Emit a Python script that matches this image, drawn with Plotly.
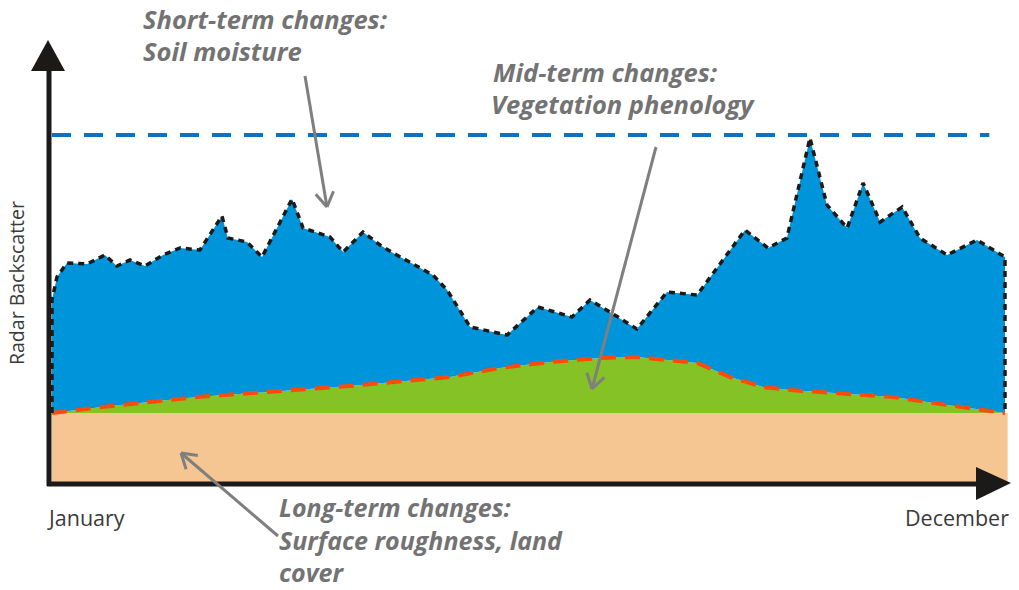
import math
import plotly.graph_objects as go

W, H = 1019, 590

# ---------------- data (arbitrary backscatter units, day of year) ----------------
moist_day = [1, 2.9, 6.7, 14.4, 21.2, 25.8, 30.8, 36.5, 43.4, 49.9, 57.5, 65.9, 68.2,
             75.5, 81.2, 92.7, 96.9, 107.2, 112.2, 119.8, 126.3, 131.3, 146.5, 151.9,
             160.7, 174.8, 186.6, 199.6, 206.5, 214.1, 224.4, 235.9, 247.4, 265.7,
             274.5, 281.7, 290.5, 297.0, 304.7, 310.8, 317.3, 325.7, 332.5, 342.9,
             354.3, 365]
moist_val = [18.4, 20.7, 22.1, 22.0, 22.9, 21.8, 22.4, 21.8, 22.9, 23.6, 23.4, 26.8, 24.6,
             24.2, 22.7, 28.5, 25.6, 24.7, 23.2, 25.2, 23.9, 23.1, 20.9, 19.4,
             15.7, 14.9, 17.7, 16.7, 18.4, 17.2, 15.5, 19.2, 18.9, 25.4,
             23.6, 24.6, 34.6, 27.9, 25.6, 30.1, 26.2, 27.7, 24.6, 22.9,
             24.4, 22.7]

veg_day = [1, 20.1, 56.4, 88.1, 114.8, 153.0, 172.1, 191.2, 210.3, 224.4, 242.0, 247.4,
           260.0, 272.6, 282.9, 304.7, 322.3, 342.9, 365]
veg_val = [7.1, 7.7, 8.7, 9.3, 9.8, 10.7, 11.6, 12.2, 12.6, 12.7, 12.2, 12.1,
           10.7, 9.7, 9.4, 9.0, 8.7, 7.9, 7.1]

rough_day = [1, 366]
rough_val = [7.1, 7.1]

max_day = [1, 359]
max_val = [34.9, 34.9]

x_labels = ["January", "December"]
y_label = "Radar Backscatter"

# ---------------- colours ----------------
C_BLUE = "#0094da"
C_GREEN = "#84c226"
C_PEACH = "#f5c592"
C_RED = "#ff4a0a"
C_MAX = "#0a72c4"
C_AXIS = "#1c1a19"
C_ARROW = "#7f7f7f"
C_TEXT = "#737373"

# ---------------- axis mapping (layout) ----------------
PX0, PX1 = 52, 1005
k = (365 - 1) / (PX1 - PX0)
x_range = [1 - PX0 * k, 1 + (W - PX0) * k]
Y0PX, YS = 484, 10.0
y_range = [-(H - Y0PX) / YS, Y0PX / YS]


def px(x):
    return x / W


def py(y):
    return 1 - y / H


fig = go.Figure()

# long-term: roughness / land cover
fig.add_trace(go.Scatter(x=rough_day, y=rough_val, mode="lines", fill="tozeroy",
                         fillcolor=C_PEACH, line=dict(width=0, color=C_PEACH),
                         hoverinfo="skip", showlegend=False))
# mid-term: vegetation
fig.add_trace(go.Scatter(x=veg_day, y=veg_val, mode="lines", fill="tonexty",
                         fillcolor=C_GREEN, line=dict(width=0, color=C_GREEN),
                         hoverinfo="skip", showlegend=False))
# short-term: soil moisture
fig.add_trace(go.Scatter(x=moist_day, y=moist_val, mode="lines", fill="tonexty",
                         fillcolor=C_BLUE, line=dict(width=0, color=C_BLUE),
                         hoverinfo="skip", showlegend=False))
# outlines
fig.add_trace(go.Scatter(x=veg_day, y=veg_val, mode="lines",
                         line=dict(width=4, color=C_RED, dash="15px,9px"),
                         hoverinfo="skip", showlegend=False))
fig.add_trace(go.Scatter(x=[moist_day[0]] + moist_day + [moist_day[-1]],
                         y=[veg_val[0]] + moist_val + [veg_val[-1]], mode="lines",
                         line=dict(width=3.5, color=C_AXIS, dash="6px,5px"),
                         hoverinfo="skip", showlegend=False))
fig.add_trace(go.Scatter(x=max_day, y=max_val, mode="lines",
                         line=dict(width=4, color=C_MAX, dash="19px,13px"),
                         hoverinfo="skip", showlegend=False))

shapes = []
# axes with arrow heads
shapes.append(dict(type="line", xref="paper", yref="paper", x0=px(49), y0=py(486),
                   x1=px(49), y1=py(66), line=dict(color=C_AXIS, width=5)))
shapes.append(dict(type="path", xref="paper", yref="paper",
                   path=f"M {px(31)},{py(71)} L {px(65)},{py(71)} L {px(48)},{py(40)} Z",
                   fillcolor=C_AXIS, line=dict(width=0)))
shapes.append(dict(type="line", xref="paper", yref="paper", x0=px(47), y0=py(484),
                   x1=px(980), y1=py(484), line=dict(color=C_AXIS, width=5)))
shapes.append(dict(type="path", xref="paper", yref="paper",
                   path=f"M {px(976)},{py(467)} L {px(976)},{py(500)} L {px(1011)},{py(483)} Z",
                   fillcolor=C_AXIS, line=dict(width=0)))


def pointer(tail, head, hl=17, ang=32):
    (tx, ty), (hx, hy) = tail, head
    d = math.atan2(ty - hy, tx - hx)
    shapes.append(dict(type="line", xref="paper", yref="paper", x0=px(tx), y0=py(ty),
                       x1=px(hx), y1=py(hy), line=dict(color=C_ARROW, width=3)))
    for s in (-1, 1):
        a = d + s * math.radians(ang)
        ex, ey = hx + hl * math.cos(a), hy + hl * math.sin(a)
        shapes.append(dict(type="line", xref="paper", yref="paper", x0=px(ex), y0=py(ey),
                           x1=px(hx), y1=py(hy), line=dict(color=C_ARROW, width=3)))


pointer((305, 76), (327, 207))
pointer((656, 147), (592, 389))
pointer((278, 536), (181, 453))

annotations = []
LABEL_FONT = "Open Sans"


def label(text, x, y, size=25.5, anchor="left", yanchor="middle"):
    annotations.append(dict(text=f"<b><i>{text}</i></b>", xref="paper", yref="paper",
                            x=px(x), y=py(y), xanchor=anchor, yanchor=yanchor,
                            showarrow=False, align="left", borderpad=0,
                            font=dict(family=LABEL_FONT, size=size, color=C_TEXT)))


label("Short-term changes:", 142, 19)
label("Soil moisture", 142, 51)
label("Mid-term changes:", 492, 72)
label("Vegetation phenology", 490, 104)
label("Long-term changes:<br>Surface roughness, land<br>cover", 278, 590,
      size=25, yanchor="bottom")

annotations.append(dict(text=x_labels[0], xref="paper", yref="paper", x=px(45), y=py(517),
                        xanchor="left", yanchor="middle", showarrow=False,
                        font=dict(family="Open Sans", size=21.5, color="#3a3a3a")))
annotations.append(dict(text=x_labels[1], xref="paper", yref="paper", x=px(1011), y=py(517),
                        xanchor="right", yanchor="middle", showarrow=False,
                        font=dict(family="Open Sans", size=21.5, color="#3a3a3a")))
annotations.append(dict(text=y_label, xref="paper", yref="paper", x=px(16), y=py(283),
                        xanchor="center", yanchor="middle", showarrow=False, textangle=-90,
                        font=dict(family="Open Sans", size=19.5, color="#3a3a3a")))

fig.update_layout(
    width=W, height=H,
    margin=dict(l=0, r=0, t=0, b=0),
    paper_bgcolor="white", plot_bgcolor="white",
    xaxis=dict(range=x_range, visible=False, fixedrange=True),
    yaxis=dict(range=y_range, visible=False, fixedrange=True),
    shapes=shapes, annotations=annotations,
    showlegend=False,
)

fig.write_html("out.html", config={"displayModeBar": False},
               post_script="document.body.style.margin='0';document.body.style.overflow='hidden';")
